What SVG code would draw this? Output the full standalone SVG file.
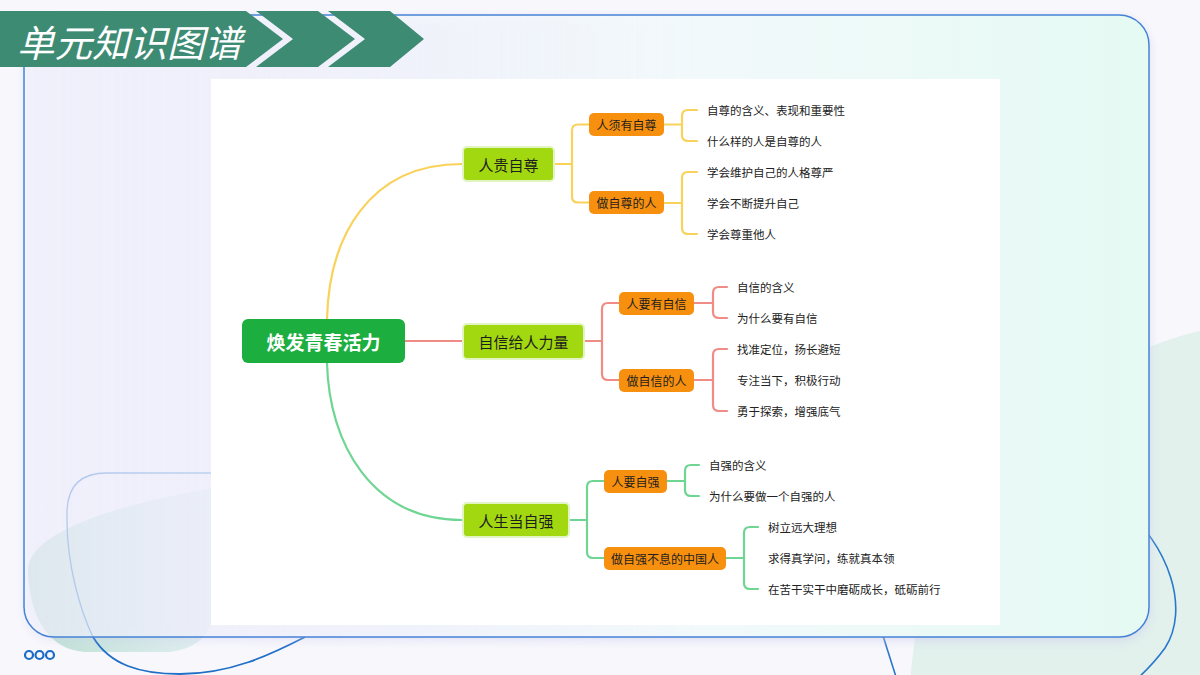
<svg xmlns="http://www.w3.org/2000/svg" width="1200" height="675" viewBox="0 0 1200 675">
<defs>
<style>
.t{font-family:"Noto Sans CJK SC","Noto Sans",sans-serif;dominant-baseline:central}
.root{fill:#1cae3e}
.l1{fill:#a2d80f;stroke:#e2f4c4;stroke-width:2}
.l2{fill:#f7900f}
.rt{font-size:19px;font-weight:bold;fill:#fff;text-anchor:middle}
.t1{font-size:15px;fill:#1e1e1e;text-anchor:middle}
.t2{font-size:12px;fill:#1e1e1e;text-anchor:middle}
.lf{font-size:11.5px;fill:#222}
.cy{fill:none;stroke:#f8d25a;stroke-width:2.2;stroke-linecap:round}
.cp{fill:none;stroke:#f08c86;stroke-width:2.2;stroke-linecap:round}
.cg{fill:none;stroke:#6fd593;stroke-width:2.2;stroke-linecap:round}
</style>
<linearGradient id="cardg" x1="0" y1="0" x2="1" y2="0">
<stop offset="0" stop-color="#f4f5fd" stop-opacity="0.55"/>
<stop offset="0.2" stop-color="#f4f5fd" stop-opacity="0.65"/>
<stop offset="0.6" stop-color="#f2f9fb" stop-opacity="1"/>
<stop offset="1" stop-color="#e5faf3" stop-opacity="1"/>
</linearGradient>
<linearGradient id="blobg" x1="0" y1="0" x2="1" y2="0">
<stop offset="0" stop-color="#bcdfd2"/>
<stop offset="1" stop-color="#e2eff2"/>
</linearGradient>
<filter id="sh" x="-5%" y="-5%" width="110%" height="115%">
<feDropShadow dx="0" dy="3" stdDeviation="6" flood-color="#c9c6ee" flood-opacity="0.6"/>
</filter>
</defs>
<rect width="1200" height="675" fill="#f8f8fc"/>
<g id="background">
<circle cx="1290" cy="700" r="380" fill="#e2f1ec"/>
<path d="M1120 505 C1170 545 1190 610 1165 648 C1152 666 1142 674 1136 680" fill="none" stroke="#2a78cc" stroke-width="1.6"/>
<path d="M878 620 Q888 652 897 680" fill="none" stroke="#2a78cc" stroke-width="1.6"/>
<path d="M28 572 C25 535 110 505 215 488 L215 600 C215 632 200 648 170 652 L85 652 C52 650 30 622 28 572 Z" fill="url(#blobg)"/>
<path d="M93 637 C80 610 67 565 67 520 L67 513 Q67 473 107 473 L215 473" fill="none" stroke="#1f6fc8" stroke-width="1.3"/>
<path d="M93 637 C110 665 140 674 180 674 C230 674 270 655 305 637" fill="none" stroke="#1f6fc8" stroke-width="1.8"/>
</g>
<g id="card">
<rect x="24" y="15" width="1125" height="622" rx="30" fill="url(#cardg)" filter="url(#sh)"/>
<rect x="24" y="15" width="1125" height="622" rx="30" fill="none" stroke="#4582d6" stroke-width="1.5"/>
<rect x="211" y="79" width="789" height="546" fill="#ffffff"/>
</g>
<g id="banner">
<polygon points="0,11 246,11 283,39 246,67 0,67" fill="#3e8b74"/>
<polygon points="256,11 318,11 355,39 318,67 256,67 293,39" fill="#3e8b74"/>
<polygon points="328,11 390,11 424,39 390,67 328,67 365,39" fill="#3e8b74"/>
<text x="17" y="40" class="t" font-size="37.5" font-style="italic" fill="#ffffff">单元知识图谱</text>
</g>
<g id="connectors">
<path class="cy" d="M327 319 C329 238 368 164 462 164"/>
<path class="cp" d="M405 341 H463"/>
<path class="cg" d="M327 363 C329 444 372 520 462 520"/>
<path class="cy" d="M554 164 H572"/>
<path class="cy" d="M589 124.5 H578 Q572 124.5 572 130.5 V196.5 Q572 202.5 578 202.5 H589"/>
<path class="cy" d="M664 124.5 H682"/>
<path class="cy" d="M697 110 H688 Q682 110 682 116 V135 Q682 141 688 141 H697"/>
<path class="cy" d="M664 203 H682"/>
<path class="cy" d="M697 172 H688 Q682 172 682 178 V228 Q682 234 688 234 H697"/>
<path class="cp" d="M584 341 H602"/>
<path class="cp" d="M619 303 H608 Q602 303 602 309 V374 Q602 380 608 380 H619"/>
<path class="cp" d="M694 303 H713"/>
<path class="cp" d="M727 287 H719 Q713 287 713 293 V312 Q713 318 719 318 H727"/>
<path class="cp" d="M694 380 H713"/>
<path class="cp" d="M727 349 H719 Q713 349 713 355 V405 Q713 411 719 411 H727"/>
<path class="cg" d="M569 520 H587"/>
<path class="cg" d="M604 481 H593 Q587 481 587 487 V552 Q587 558 593 558 H604"/>
<path class="cg" d="M667 481 H685"/>
<path class="cg" d="M699 465 H691 Q685 465 685 471 V490 Q685 496 691 496 H699"/>
<path class="cg" d="M726 558 H744"/>
<path class="cg" d="M758 527 H750 Q744 527 744 533 V583 Q744 589 750 589 H758"/>
</g>
<g id="n-root"><rect class="root" x="242" y="319" width="163" height="44" rx="6"/><text class="t rt" x="323.5" y="341">焕发青春活力</text></g>
<g id="n-a"><rect class="l1" x="463" y="147" width="91" height="34" rx="4"/><text class="t t1" x="508.5" y="164">人贵自尊</text></g>
<g id="n-b"><rect class="l1" x="463" y="324" width="121" height="35" rx="4"/><text class="t t1" x="523.5" y="341">自信给人力量</text></g>
<g id="n-c"><rect class="l1" x="463" y="503" width="106" height="34" rx="4"/><text class="t t1" x="516" y="520">人生当自强</text></g>
<g id="n-a1"><rect class="l2" x="589" y="113" width="75" height="23" rx="5"/><text class="t t2" x="626.5" y="124.5">人须有自尊</text></g>
<g id="n-a2"><rect class="l2" x="589" y="191" width="75" height="23" rx="5"/><text class="t t2" x="626.5" y="202.5">做自尊的人</text></g>
<g id="n-b1"><rect class="l2" x="619" y="292" width="75" height="23" rx="5"/><text class="t t2" x="656.5" y="303">人要有自信</text></g>
<g id="n-b2"><rect class="l2" x="619" y="369" width="75" height="23" rx="5"/><text class="t t2" x="656.5" y="380">做自信的人</text></g>
<g id="n-c1"><rect class="l2" x="604" y="470" width="63" height="23" rx="5"/><text class="t t2" x="635.5" y="481">人要自强</text></g>
<g id="n-c2"><rect class="l2" x="604" y="547" width="122" height="23" rx="5"/><text class="t t2" x="665" y="558">做自强不息的中国人</text></g>
<g id="leaves">
<g id="l-a1a"><text class="t lf" x="707" y="110">自尊的含义、表现和重要性</text></g>
<g id="l-a1b"><text class="t lf" x="707" y="141">什么样的人是自尊的人</text></g>
<g id="l-a2a"><text class="t lf" x="707" y="172">学会维护自己的人格尊严</text></g>
<g id="l-a2b"><text class="t lf" x="707" y="203">学会不断提升自己</text></g>
<g id="l-a2c"><text class="t lf" x="707" y="234">学会尊重他人</text></g>
<g id="l-b1a"><text class="t lf" x="737" y="287">自信的含义</text></g>
<g id="l-b1b"><text class="t lf" x="737" y="318">为什么要有自信</text></g>
<g id="l-b2a"><text class="t lf" x="737" y="349">找准定位，扬长避短</text></g>
<g id="l-b2b"><text class="t lf" x="737" y="380">专注当下，积极行动</text></g>
<g id="l-b2c"><text class="t lf" x="737" y="411">勇于探索，增强底气</text></g>
<g id="l-c1a"><text class="t lf" x="709" y="465">自强的含义</text></g>
<g id="l-c1b"><text class="t lf" x="709" y="496">为什么要做一个自强的人</text></g>
<g id="l-c2a"><text class="t lf" x="768" y="527">树立远大理想</text></g>
<g id="l-c2b"><text class="t lf" x="768" y="558">求得真学问，练就真本领</text></g>
<g id="l-c2c"><text class="t lf" x="768" y="589">在苦干实干中磨砺成长，砥砺前行</text></g>
</g>
<g id="dots" fill="none" stroke="#1a6cc8" stroke-width="2.2">
<circle cx="29" cy="655" r="4"/><circle cx="39.5" cy="655" r="4"/><circle cx="50" cy="655" r="4"/>
</g>
</svg>
